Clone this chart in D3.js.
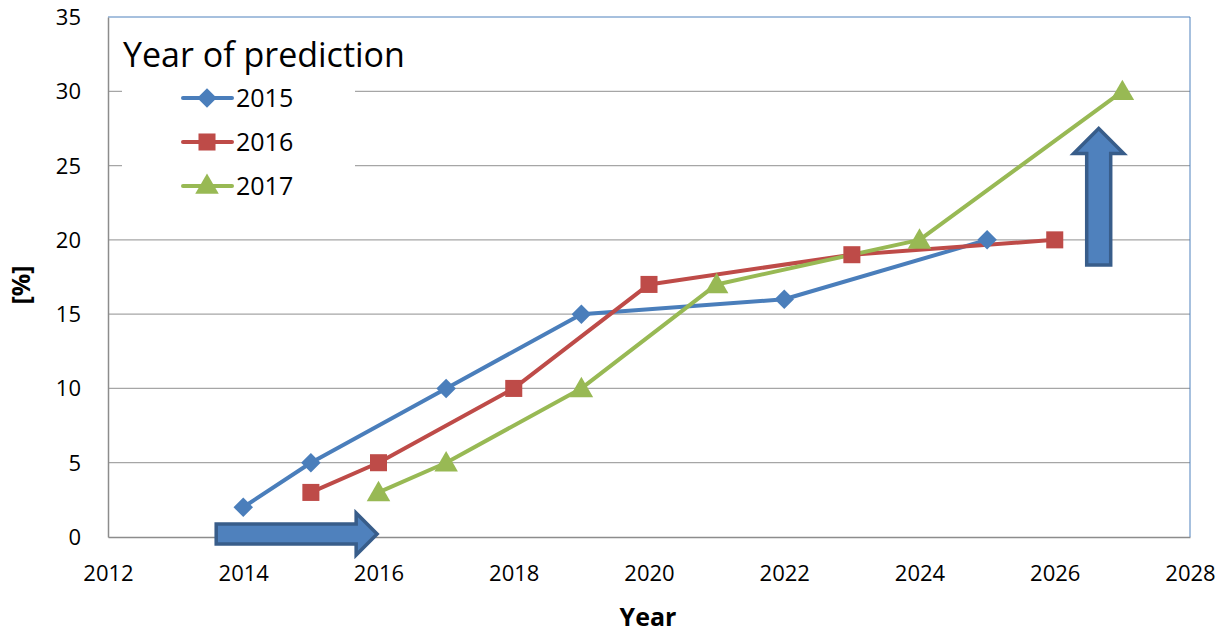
<!DOCTYPE html>
<html>
<head>
<meta charset="utf-8">
<script src="https://cdn.jsdelivr.net/npm/d3@7"></script>
<style>
  html, body { margin: 0; padding: 0; background: #fff; }
  svg { display: block; font-family: "Open Sans", "Noto Sans", sans-serif; }
</style>
</head>
<body>
<svg id="chart" width="1220" height="635"></svg>
<script>
// Predicted share [%] by target year, one series per year the prediction was made
const seriesNames = ["2015", "2016", "2017"];
const years2015 = [2014, 2015, 2017, 2019, 2022, 2025];
const values2015 = [2, 5, 10, 15, 16, 20];
const years2016 = [2015, 2016, 2018, 2020, 2023, 2026];
const values2016 = [3, 5, 10, 17, 19, 20];
const years2017 = [2016, 2017, 2019, 2021, 2024, 2027];
const values2017 = [3, 5, 10, 17, 20, 30];
const xTicks = [2012, 2014, 2016, 2018, 2020, 2022, 2024, 2026, 2028];
const yTicks = [0, 5, 10, 15, 20, 25, 30, 35];

const colors = ["#4A7EBB", "#BE4B48", "#98B954"];

// marker shapes: square rotated 45° (diamond), square, triangle
const markers = [
  { type: d3.symbolSquare, size: 190, rotate: 45, dy: 0 },
  { type: d3.symbolSquare, size: 290, rotate: 0, dy: 0 },
  { type: d3.symbolTriangle, size: 240, rotate: 0, dy: 2 }
];

const series = [
  { name: seriesNames[0], pts: years2015.map((x, i) => ({ x, y: values2015[i] })) },
  { name: seriesNames[1], pts: years2016.map((x, i) => ({ x, y: values2016[i] })) },
  { name: seriesNames[2], pts: years2017.map((x, i) => ({ x, y: values2017[i] })) }
];

const svg = d3.select("#chart");
const L = 108, R = 1190, T = 17, B = 537;

const x = d3.scaleLinear().domain([2012, 2028]).range([L, R]);
const y = d3.scaleLinear().domain([0, 35]).range([B, T]);

// horizontal gridlines
svg.append("g")
  .selectAll("line")
  .data(yTicks.filter(t => t > 0 && t < 35))
  .join("line")
  .attr("x1", L).attr("x2", R)
  .attr("y1", d => y(d)).attr("y2", d => y(d))
  .attr("stroke", "#A6A6A6").attr("stroke-width", 1.2);

// plot-area outline (top and right)
svg.append("path")
  .attr("d", `M${L},${T}H${R}V${B}`)
  .attr("fill", "none").attr("stroke", "#4F81BD").attr("stroke-width", 1);

// axes
const yAxis = svg.append("g").attr("transform", `translate(${L},0)`)
  .call(d3.axisLeft(y).tickValues(yTicks).tickSize(0).tickPadding(27));
const xAxis = svg.append("g").attr("transform", `translate(0,${B})`)
  .call(d3.axisBottom(x).tickValues(xTicks).tickFormat(d3.format("d")).tickSize(0).tickPadding(28));
[yAxis, xAxis].forEach(a => {
  a.select(".domain").attr("stroke", "#8C8C8C").attr("stroke-width", 1.5);
  a.selectAll("text").attr("font-size", 22).attr("fill", "#000")
    .attr("font-family", "'Open Sans', 'Noto Sans', sans-serif");
});
yAxis.selectAll("text").attr("dy", "0.34em");
xAxis.selectAll("text").attr("dy", "0.71em");

// axis titles
svg.append("text")
  .attr("transform", `translate(30,${(T + B) / 2 + 8}) rotate(-90)`)
  .attr("text-anchor", "middle")
  .attr("font-size", 25).attr("font-weight", "bold")
  .text("[%]");
svg.append("text")
  .attr("x", (L + R) / 2 - 1).attr("y", 626)
  .attr("text-anchor", "middle")
  .attr("font-size", 25).attr("font-weight", "bold")
  .text("Year");

// block arrows
const arrowFill = "#4F81BD", arrowStroke = "#385D8A";
function blockArrowH(x0, x1, cy, shaftH, headH, headL) {
  const xb = x1 - headL;
  return `M${x0},${cy - shaftH / 2}H${xb}V${cy - headH / 2}L${x1},${cy}L${xb},${cy + headH / 2}V${cy + shaftH / 2}H${x0}Z`;
}
function blockArrowV(cx, y0, y1, shaftW, headW, headL) {
  const yb = y1 + headL;
  return `M${cx - shaftW / 2},${y0}V${yb}H${cx - headW / 2}L${cx},${y1}L${cx + headW / 2},${yb}H${cx + shaftW / 2}V${y0}Z`;
}

// lines and markers
const line = d3.line().x(d => x(d.x)).y(d => y(d.y));
const gSeries = svg.append("g");
series.forEach((s, i) => {
  gSeries.append("path")
    .datum(s.pts)
    .attr("d", line)
    .attr("fill", "none")
    .attr("stroke", colors[i])
    .attr("stroke-width", 4)
    .attr("stroke-linejoin", "round");
});
series.forEach((s, i) => {
  const m = markers[i];
  gSeries.append("g")
    .selectAll("path")
    .data(s.pts)
    .join("path")
    .attr("transform", d => `translate(${x(d.x)},${y(d.y) + m.dy}) rotate(${m.rotate})`)
    .attr("d", d3.symbol().type(m.type).size(m.size))
    .attr("fill", colors[i]);
});

svg.append("path")
  .attr("d", blockArrowH(x(2013.6), x(2015.98), y(0.2), 20, 42, 21))
  .attr("fill", arrowFill).attr("stroke", arrowStroke).attr("stroke-width", 3.5)
  .attr("stroke-linejoin", "miter");
svg.append("path")
  .attr("d", blockArrowV(x(2026.65), y(18.3), y(27.5), 24, 50, 25))
  .attr("fill", arrowFill).attr("stroke", arrowStroke).attr("stroke-width", 3.5)
  .attr("stroke-linejoin", "miter");

// legend
const lg = svg.append("g");
lg.append("rect")
  .attr("x", 122).attr("y", 24).attr("width", 233).attr("height", 184)
  .attr("fill", "#fff");
lg.append("text")
  .attr("x", 123).attr("y", 67)
  .attr("font-size", 34)
  .text("Year of prediction");
series.forEach((s, i) => {
  const ly = 98 + i * 44;
  const m = markers[i];
  lg.append("line")
    .attr("x1", 183).attr("x2", 232).attr("y1", ly).attr("y2", ly)
    .attr("stroke", colors[i]).attr("stroke-width", 4).attr("stroke-linecap", "round");
  lg.append("path")
    .attr("transform", `translate(207,${ly + (i === 2 ? 1 : 0)}) rotate(${m.rotate})`)
    .attr("d", d3.symbol().type(m.type).size(m.size))
    .attr("fill", colors[i]);
  lg.append("text")
    .attr("x", 236).attr("y", ly + 9)
    .attr("font-size", 25)
    .text(s.name);
});
</script>
</body>
</html>
